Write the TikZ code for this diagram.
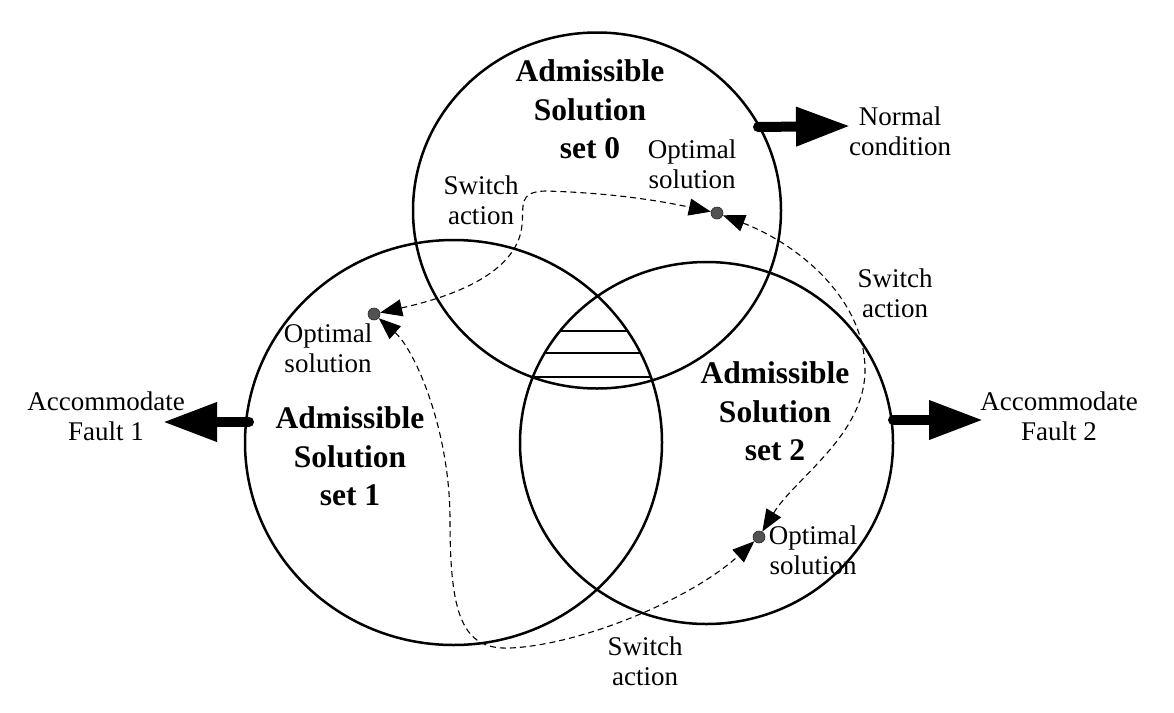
\documentclass[tikz,border=0pt]{standalone}
\usepackage{fontspec}
\setmainfont{Liberation Serif}
\usetikzlibrary{arrows.meta,shapes.geometric}
\begin{document}
\begin{tikzpicture}[x=1pt,y=-1pt,
  setcirc/.style={ellipse, draw, line width=2.5pt, inner sep=0pt, outer sep=0pt},
  bigtxt/.style={font=\fontsize{31.5}{38.5}\selectfont\bfseries, align=center, inner sep=0pt},
  txt/.style={font=\fontsize{27}{30}\selectfont, align=center, inner sep=0pt},
  soldot/.style={circle, fill=black!68, draw=black!85, line width=0.6pt, minimum size=12pt, inner sep=0pt},
  fat/.style={line width=10pt, line cap=round, arrows={-Triangle[length=54pt,width=37pt]}},
  sw/.style={dash pattern=on 6pt off 4pt, line width=1.1pt, arrows={Triangle[length=22pt,width=17pt]-Triangle[length=22pt,width=17pt]}},
  hatch/.style={line width=1.3pt}
]
\useasboundingbox (0,0) rectangle (1174,712);

% the three admissible sets
\node[setcirc, minimum width=368pt, minimum height=356pt] (s0) at (597,210.5) {};
\node[setcirc, minimum width=417pt, minimum height=405pt] (s1) at (453.5,442.5) {};
\node[setcirc, minimum width=373pt, minimum height=362pt] (s2) at (706.5,443) {};

% hatching of the common region
\begin{scope}
  \clip (s1.center) ellipse [x radius=208.5pt, y radius=202.5pt];
  \clip (s2.center) ellipse [x radius=186.5pt, y radius=181pt];
  \draw[hatch] (500,331) -- (700,331);
  \draw[hatch] (500,353) -- (700,353);
  \draw[hatch] (500,377) -- (700,377);
\end{scope}

% labels
\node[bigtxt] (l0) at (590,109.5) {Admissible\\Solution\\set 0};
\node[bigtxt] (l1) at (350,456.5) {Admissible\\Solution\\set 1};
\node[bigtxt] (l2) at (775,411.5) {Admissible\\Solution\\set 2};
\node[txt] (os0) at (692,164) {Optimal\\solution};
\node[txt] (sa0) at (481,200) {Switch\\action};
\node[txt] (nc) at (900,131) {Normal\\condition};
\node[txt] (sa1) at (895,293) {Switch\\action};
\node[txt] (os1) at (328,348) {Optimal\\solution};
\node[txt] (af1) at (106,416) {Accommodate\\Fault 1};
\node[txt] (af2) at (1059,416) {Accommodate\\Fault 2};
\node[txt] (os2) at (813,550) {Optimal\\solution};
\node[txt] (sa2) at (645,661) {Switch\\action};

% optimal solutions
\node[soldot] (o0) at (717,213) {};
\node[soldot] (o1) at (374,314) {};
\node[soldot] (o2) at (759,537) {};

% outcome arrows
\coordinate (n0) at (758,127); \coordinate (n1) at (850,126);
\coordinate (f1a) at (249,422); \coordinate (f1b) at (163,422);
\coordinate (f2a) at (893,420); \coordinate (f2b) at (983,420);
\draw[fat] (n0) -- (n1);
\draw[fat] (f1a) -- (f1b);
\draw[fat] (f2a) -- (f2b);

% switch actions
\draw[sw] (o1) .. controls (460,295) and (518,270) .. (522,225)
  .. controls (524,205) and (518,192) .. (545,191)
  .. controls (620,193) and (670,203) .. (o0);
\draw[sw] (o0) .. controls (800,245) and (865,300) .. (865,370)
  .. controls (865,435) and (795,478) .. (o2);
\draw[sw] (o1) .. controls (415,350) and (450,430) .. (450,520)
  .. controls (450,615) and (462,650) .. (510,648)
  .. controls (580,645) and (690,600) .. (o2);
\end{tikzpicture}
\end{document}
